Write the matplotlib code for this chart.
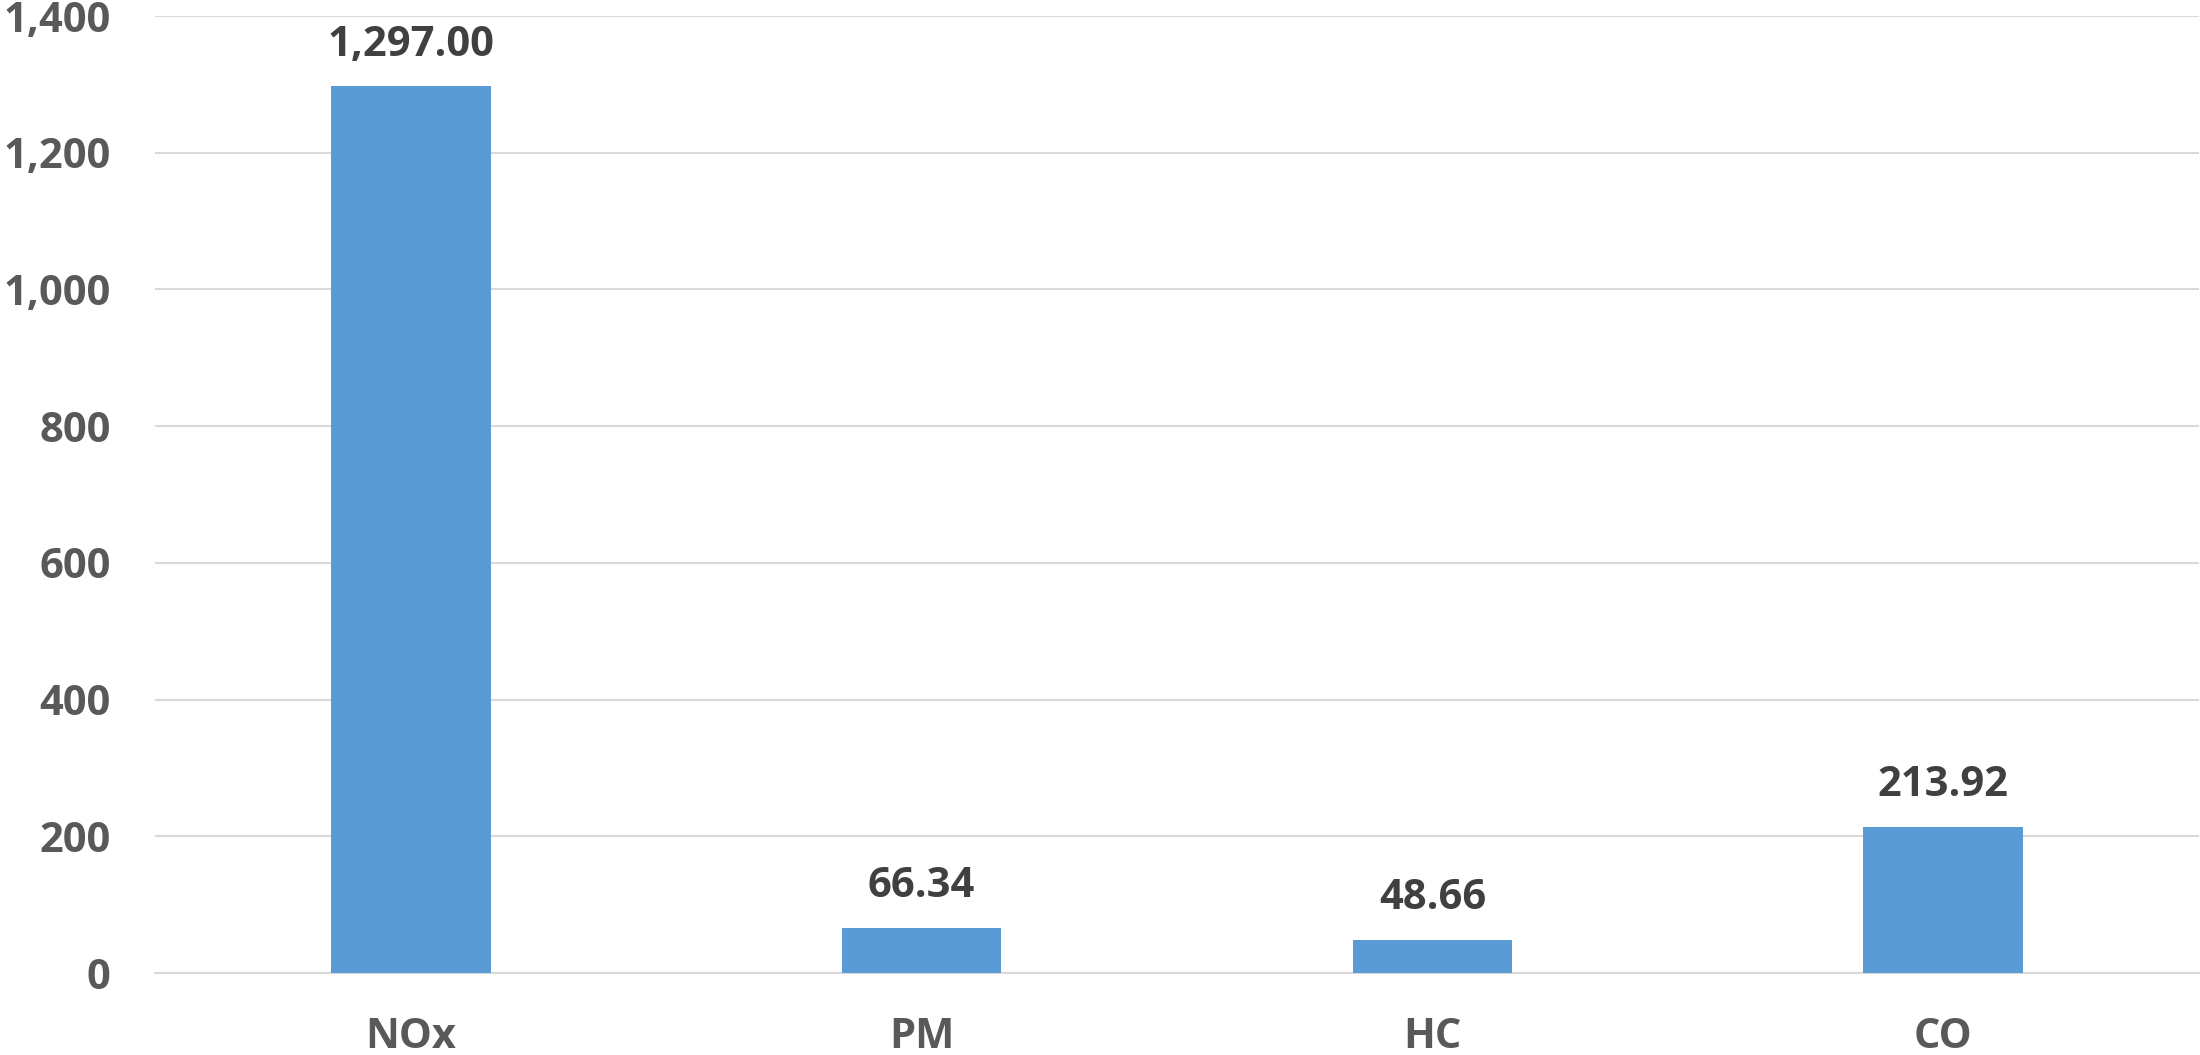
import matplotlib.pyplot as plt
from matplotlib.ticker import FuncFormatter

# emissions by pollutant
pollutants = ["NOx", "PM", "HC", "CO"]
emissions = [1297.00, 66.34, 48.66, 213.92]
y_ticks = [0, 200, 400, 600, 800, 1000, 1200, 1400]

plt.rcParams['font.family'] = ['Open Sans', 'DejaVu Sans']

fig = plt.figure(figsize=(22, 10.55), dpi=100)
ax = fig.add_axes([0.0705, 0.0777, 0.929, 0.9071])

x = range(len(pollutants))
bars = ax.bar(x, emissions, width=0.313, color="#5B9BD5", zorder=3)

for b, v in zip(bars, emissions):
    ax.annotate(f"{v:,.2f}", (b.get_x() + b.get_width() / 2, v),
                xytext=(0, 15), textcoords="offset points",
                ha="center", va="bottom", fontsize=30, fontweight="bold",
                color="#404040")

ax.set_xlim(-0.5, len(pollutants) - 0.5)
ax.set_ylim(0, 1400)
ax.set_yticks(y_ticks)
ax.yaxis.set_major_formatter(FuncFormatter(lambda v, p: f"{v:,.0f}"))
ax.set_xticks(list(x))
ax.set_xticklabels(pollutants)

ax.grid(axis="y", color="#D9D9D9", linewidth=1.5, zorder=0)
for s in ["top", "right", "left"]:
    ax.spines[s].set_visible(False)
ax.spines["bottom"].set_color("#D9D9D9")
ax.spines["bottom"].set_linewidth(1.5)

ax.tick_params(axis="both", length=0, labelsize=30, labelcolor="#595959")
ax.tick_params(axis="y", pad=32)
ax.tick_params(axis="x", pad=32)
for lbl in ax.get_xticklabels() + ax.get_yticklabels():
    lbl.set_fontweight("bold")

fig.savefig("out.png", dpi=100)
